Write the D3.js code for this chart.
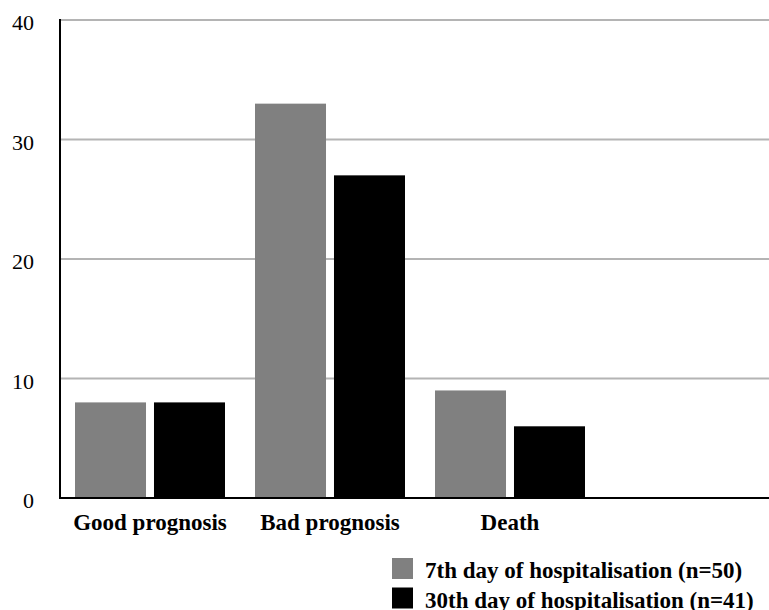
<!DOCTYPE html>
<html>
<head>
<meta charset="utf-8">
<script src="https://cdn.jsdelivr.net/npm/d3@7"></script>
<style>
  body { margin: 0; background: #fff; }
  svg { display: block; font-family: "Liberation Serif", "Times New Roman", serif; }
</style>
</head>
<body>
<svg class="chart"></svg>
<script>
// chart data
var categories = ["Good prognosis", "Bad prognosis", "Death"];
var seriesNames = ["7th day of hospitalisation (n=50)", "30th day of hospitalisation (n=41)"];
var day7 = [8, 33, 9];
var day30 = [8, 27, 6];
var yTicks = [0, 10, 20, 30, 40];
var colors = ["#808080", "#000000"];

var width = 769, height = 610;
var chart = d3.select(".chart")
  .attr("width", width)
  .attr("height", height);

// plot area (don't call it "top", that's window.top)
var plot = {left: 60, right: 769, top: 20, bottom: 498};

var y = d3.scaleLinear().domain([0, 40]).range([plot.bottom, plot.top]);

// each category gets a 180px slot starting at the y axis
var x0 = d3.scaleBand()
  .domain(categories)
  .range([plot.left, plot.left + 180 * categories.length])
  .padding(0);
var x1 = d3.scaleBand()
  .domain(seriesNames)
  .range([15, 165])
  .paddingInner(0.101)
  .paddingOuter(0);

// gridlines
chart.append("g")
  .attr("class", "grid")
  .selectAll("line")
  .data(yTicks.filter(function(d) { return d > 0; }))
  .enter().append("line")
    .attr("x1", plot.left)
    .attr("x2", plot.right)
    .attr("y1", function(d) { return y(d); })
    .attr("y2", function(d) { return y(d); })
    .attr("stroke", "#b4b4b4")
    .attr("stroke-width", 2);

// y tick labels
var yAxis = d3.axisLeft(y)
  .tickValues(yTicks)
  .tickSize(0)
  .tickPadding(26);
var yg = chart.append("g")
  .attr("transform", "translate(" + plot.left + ",0)")
  .call(yAxis);
yg.select(".domain").remove();
yg.selectAll(".tick text")
  .attr("font-family", "Liberation Serif, serif")
  .attr("font-size", 22)
  .attr("fill", "#000")
  .attr("dy", "0.45em");

// bars
var rows = categories.map(function(c, i) {
  return { name: c, values: [day7[i], day30[i]] };
});
var group = chart.append("g").selectAll("g")
  .data(rows)
  .enter().append("g")
    .attr("transform", function(d) { return "translate(" + x0(d.name) + ",0)"; });

group.selectAll("rect")
  .data(function(d) {
    return d.values.map(function(v, j) { return { key: seriesNames[j], value: v, j: j }; });
  })
  .enter().append("rect")
    .attr("x", function(d) { return x1(d.key); })
    .attr("y", function(d) { return y(d.value); })
    .attr("width", x1.bandwidth())
    .attr("height", function(d) { return y(0) - y(d.value); })
    .attr("fill", function(d) { return colors[d.j]; });

// axes lines
chart.append("line")
  .attr("x1", plot.left).attr("x2", plot.left)
  .attr("y1", plot.top - 1).attr("y2", plot.bottom + 1)
  .attr("stroke", "#000").attr("stroke-width", 2);
chart.append("line")
  .attr("x1", plot.left - 1).attr("x2", plot.right)
  .attr("y1", plot.bottom).attr("y2", plot.bottom)
  .attr("stroke", "#000").attr("stroke-width", 2);

// category labels
chart.append("g").selectAll("text")
  .data(categories)
  .enter().append("text")
    .attr("x", function(d) { return x0(d) + x0.bandwidth() / 2; })
    .attr("y", 530)
    .attr("text-anchor", "middle")
    .attr("font-weight", "bold")
    .attr("font-size", 23)
    .text(function(d) { return d; });

// legend
var legend = chart.append("g").selectAll("g")
  .data(seriesNames)
  .enter().append("g")
    .attr("transform", function(d, i) { return "translate(392," + (558 + i * 29.5) + ")"; });
legend.append("rect")
  .attr("width", 21)
  .attr("height", 21)
  .attr("fill", function(d, i) { return colors[i]; });
legend.append("text")
  .attr("x", 33)
  .attr("y", 20)
  .attr("font-weight", "bold")
  .attr("font-size", 23)
  .text(function(d) { return d; });
</script>
</body>
</html>
